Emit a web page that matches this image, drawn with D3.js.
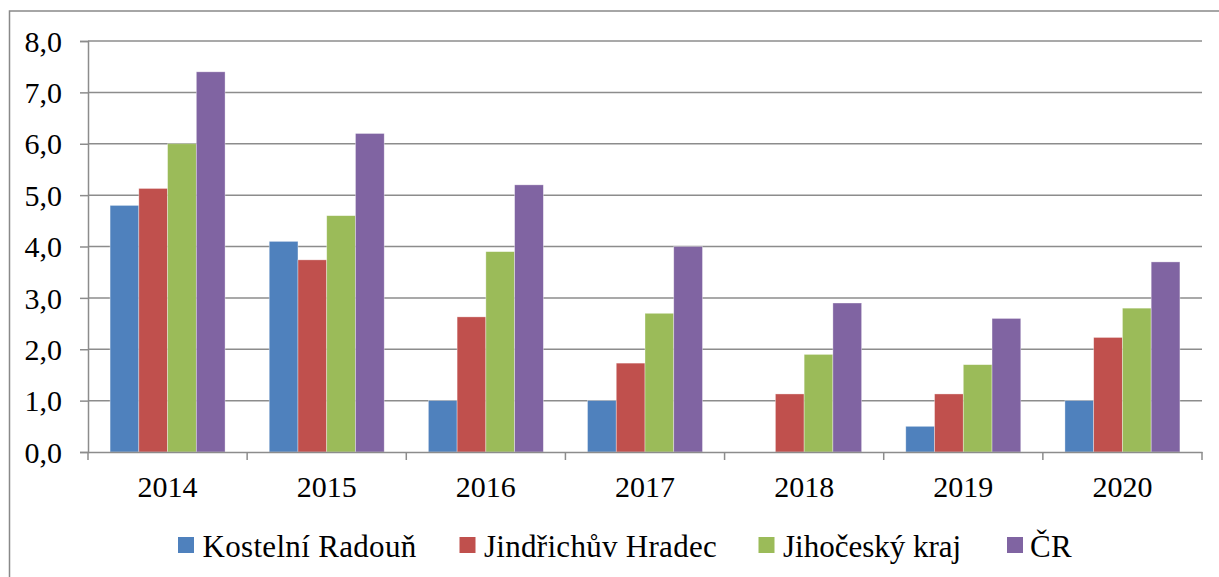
<!DOCTYPE html>
<html>
<head>
<meta charset="utf-8">
<script src="https://cdn.jsdelivr.net/npm/d3@7"></script>
<style>
  html, body { margin: 0; padding: 0; background: #fff; }
  svg { display: block; }
</style>
</head>
<body>
<svg id="chart" width="1219" height="577"></svg>
<script>
const years = ["2014", "2015", "2016", "2017", "2018", "2019", "2020"];
const seriesNames = ["Kostelní Radouň", "Jindřichův Hradec", "Jihočeský kraj", "ČR"];
const kostelniRadoun = [4.8, 4.1, 1.0, 1.0, 0, 0.5, 1.0];
const jindrichuvHradec = [5.13, 3.74, 2.63, 1.73, 1.13, 1.13, 2.23];
const jihoceskyKraj = [6.0, 4.6, 3.9, 2.7, 1.9, 1.7, 2.8];
const cr = [7.4, 6.2, 5.2, 4.0, 2.9, 2.6, 3.7];
const yTicks = [0, 1, 2, 3, 4, 5, 6, 7, 8];
const colors = ["#4F81BD", "#C0504D", "#9BBB59", "#8064A2"];

const seriesValues = [kostelniRadoun, jindrichuvHradec, jihoceskyKraj, cr];

(function () {
const FONT = "Liberation Serif";
const svg = d3.select("#chart").attr("font-family", FONT);
const mLeft = 88, mRight = 1202, mTop = 41, mBottom = 452;

// outer frame
svg.append("rect")
  .attr("x", 9.5).attr("y", 11).attr("width", 1230).attr("height", 600)
  .attr("fill", "none").attr("stroke", "#898989").attr("stroke-width", 1.5);

const y = d3.scaleLinear().domain([0, 8]).range([mBottom, mTop]);
const x0 = d3.scaleBand().domain(years).range([mLeft, mRight]).paddingInner(0).paddingOuter(0);
const x1 = d3.scaleBand().domain(seriesNames).range([0, x0.bandwidth()]).paddingInner(0).paddingOuter(0.768);

// gridlines
svg.append("g").selectAll("line").data(yTicks.filter(d => d > 0)).join("line")
  .attr("x1", mLeft).attr("x2", mRight)
  .attr("y1", d => y(d)).attr("y2", d => y(d))
  .attr("stroke", "#8c8c8c").attr("stroke-width", 1.5);

// y axis
const yAxis = d3.axisLeft(y).tickValues(yTicks).tickSize(8).tickPadding(18)
  .tickFormat(d => d3.format(".1f")(d).replace(".", ","));
const gy = svg.append("g").attr("transform", `translate(${mLeft},0)`).call(yAxis)
  .attr("font-family", FONT).attr("font-size", 30);
gy.select(".domain").attr("stroke", "#8c8c8c").attr("stroke-width", 1.5);
gy.selectAll(".tick line").attr("stroke", "#8c8c8c").attr("stroke-width", 1.5);
gy.selectAll(".tick text").attr("fill", "#000").attr("dy", "0.34em");

// bars
const groups = svg.append("g").selectAll("g").data(years).join("g")
  .attr("transform", d => `translate(${x0(d)},0)`);
groups.selectAll("rect")
  .data((d, i) => seriesNames.map((s, j) => ({ s, j, v: seriesValues[j][i] })))
  .join("rect")
  .filter(d => d.v > 0)
  .attr("x", d => x1(d.s))
  .attr("width", x1.bandwidth())
  .attr("y", d => y(d.v))
  .attr("height", d => y(0) - y(d.v))
  .attr("fill", d => colors[d.j])
  .attr("stroke", "#ffffff").attr("stroke-opacity", 0.5).attr("stroke-width", 0.7);

// x axis
const xAxis = d3.axisBottom(x0).tickSize(0).tickPadding(24);
const gx = svg.append("g").attr("transform", `translate(0,${mBottom})`).call(xAxis)
  .attr("font-family", FONT).attr("font-size", 30);
gx.select(".domain").attr("stroke", "#8c8c8c").attr("stroke-width", 1.5);
gx.selectAll(".tick text").attr("fill", "#000");
// category boundary ticks
const bounds = years.map(d => x0(d)).concat([x0(years[years.length - 1]) + x0.bandwidth()]);
gx.append("g").selectAll("line").data(bounds).join("line")
  .attr("x1", d => d).attr("x2", d => d).attr("y1", 0).attr("y2", 8)
  .attr("stroke", "#8c8c8c").attr("stroke-width", 1.5);

// legend
const legendX = [178, 459.5, 758.5, 1007];
const legendW = [214, 233, 178, 42];
const lg = svg.append("g").attr("font-family", FONT).attr("font-size", 31)
  .selectAll("g").data(seriesNames).join("g")
  .attr("transform", (d, i) => `translate(${legendX[i]},537)`);
lg.append("rect").attr("width", 16).attr("height", 16).attr("fill", (d, i) => colors[i]);
lg.append("text").attr("x", (d, i) => i === 3 ? 23 : 24.5).attr("y", 20)
  .attr("fill", "#000")
  .text(d => d)
  .each(function (d, i) {
    const len = this.getComputedTextLength();
    const n = d.length;
    const ls = (legendW[i] - len) / n;
    if (ls > 0) d3.select(this).attr("letter-spacing", ls.toFixed(2));
  });
})();
</script>
</body>
</html>
